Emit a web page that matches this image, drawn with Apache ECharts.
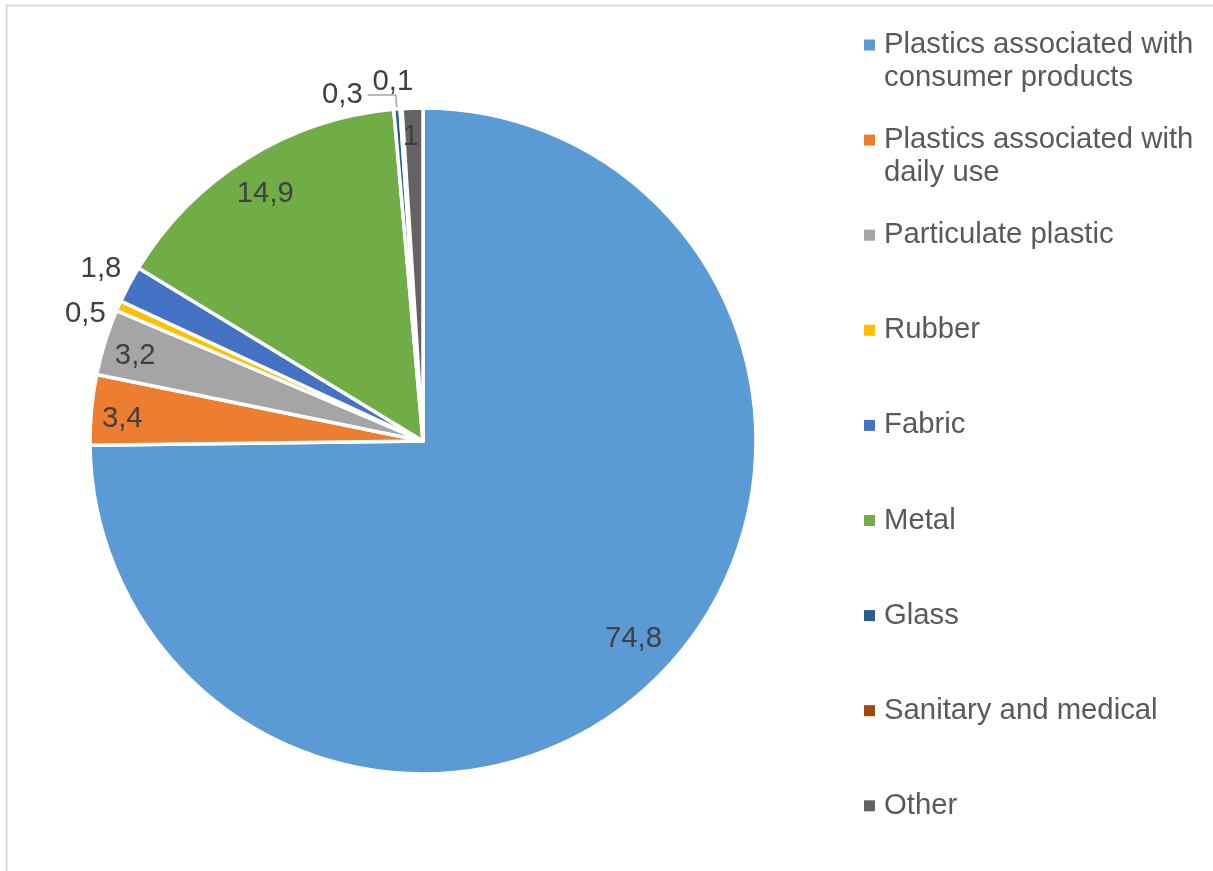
<!DOCTYPE html>
<html>
<head>
<meta charset="utf-8">
<script src="https://cdn.jsdelivr.net/npm/echarts@6/dist/echarts.min.js"></script>
<style>
  html, body { margin: 0; padding: 0; background: #ffffff; }
  #chart { width: 1213px; height: 871px; }
</style>
</head>
<body>
<div id="chart"></div>
<script>
// Share of collected items by material category (%)
const categories = [
  'Plastics associated with consumer products',
  'Plastics associated with daily use',
  'Particulate plastic',
  'Rubber',
  'Fabric',
  'Metal',
  'Glass',
  'Sanitary and medical',
  'Other'
];
const shares = [74.8, 3.4, 3.2, 0.5, 1.8, 14.9, 0.3, 0.1, 1];

// ---- styling ----
const colors = ['#5B9BD5', '#ED7D31', '#A5A5A5', '#FFC000', '#4472C4', '#70AD47', '#255E91', '#9E480E', '#636363'];
const FONT = "'Liberation Sans', Arial, sans-serif";
const FONT_SIZE = 29.3;
const LINE_H = 33;
const CENTER = [423, 441];
const RADIUS = 333;

// where each value label sits
const innerLabelNames = new Set(['Plastics associated with consumer products', 'Plastics associated with daily use', 'Particulate plastic', 'Metal', 'Other']);
const outerLabelNames = new Set(['Rubber', 'Fabric', 'Sanitary and medical']);
const leaderLabelNames = new Set(['Glass']);
// small hand adjustments of individual value labels (px)
const labelNudge = {
  'Plastics associated with consumer products': [2, -8],
  'Plastics associated with daily use': [-9, 5],
  'Particulate plastic': [-8, 2],
  'Metal': [-3, 2],
  'Other': [-3, -11],
  'Rubber': [-4, 21],
  'Sanitary and medical': [-6, 5]
};

const fmtValue = p => String(p.value).replace('.', ',');

const labelText = {
  color: '#404040',
  fontFamily: FONT,
  fontSize: FONT_SIZE,
  formatter: fmtValue
};

// greedy word wrap for legend entries
const measureCtx = document.createElement('canvas').getContext('2d');
measureCtx.font = FONT_SIZE + 'px ' + FONT;
function wrapName(name, maxWidth) {
  const words = name.split(' ');
  const lines = [];
  let line = '';
  words.forEach(w => {
    const test = line ? line + ' ' + w : w;
    if (line && measureCtx.measureText(test).width > maxWidth) {
      lines.push(line);
      line = w;
    } else {
      line = test;
    }
  });
  if (line) lines.push(line);
  return lines;
}

const chart = echarts.init(document.getElementById('chart'), null, { renderer: 'canvas' });

// main pie with slice colours; only the leader-line label is drawn here
const mainPie = {
  type: 'pie',
  center: CENTER,
  radius: RADIUS,
  startAngle: 90,
  clockwise: true,
  avoidLabelOverlap: false,
  emphasis: { disabled: true },
  itemStyle: { borderColor: '#ffffff', borderWidth: 3.5 },
  label: { show: false },
  labelLine: { show: false },
  data: categories.map((name, i) => {
    const item = { name, value: shares[i], itemStyle: { color: colors[i] } };
    if (leaderLabelNames.has(name)) {
      item.label = Object.assign({ show: true, position: 'outside', distanceToLabelLine: 5 }, labelText);
      item.labelLine = { show: true, length: 14, length2: 28, lineStyle: { color: '#A6A6A6', width: 1.5 } };
    }
    return item;
  })
};

// transparent rings used only to carry value labels at a chosen distance
function labelRing(radius, names) {
  return {
    type: 'pie',
    silent: true,
    center: CENTER,
    radius,
    startAngle: 90,
    clockwise: true,
    avoidLabelOverlap: false,
    emphasis: { disabled: true },
    itemStyle: { color: 'rgba(0,0,0,0)', borderWidth: 0 },
    labelLine: { show: false },
    label: Object.assign({ show: true, position: 'inside' }, labelText),
    data: categories.map((name, i) => {
      const item = { name, value: shares[i] };
      if (!names.has(name)) item.label = { show: false };
      else if (labelNudge[name]) item.label = { offset: labelNudge[name] };
      return item;
    })
  };
}

// one legend block per entry, rows evenly spaced; wrapped entries keep the
// marker beside their first line by centring on a leading blank line
const legendRowTop = 45;
const legendRowStep = 95.1;
const legends = categories.map((name, i) => {
  let lines = wrapName(name, 320);
  if (lines.length > 1) lines = [' '].concat(lines);
  const rowCenter = legendRowTop + legendRowStep * i;
  const boxHalf = LINE_H * lines.length / 2;
  return {
    data: [name],
    orient: 'vertical',
    left: 864,
    top: rowCenter - boxHalf,
    padding: 0,
    icon: 'rect',
    itemWidth: 11,
    itemHeight: 11,
    selectedMode: false,
    itemStyle: { borderWidth: 0 },
    formatter: () => lines.join('\n'),
    textStyle: {
      color: '#595959',
      fontFamily: FONT,
      fontSize: FONT_SIZE,
      lineHeight: LINE_H,
      padding: [0, 0, 0, 4]
    }
  };
});

chart.setOption({
  animation: false,
  backgroundColor: '#ffffff',
  graphic: [{
    type: 'rect',
    silent: true,
    shape: { x: 6.7, y: 5.5, width: 1400, height: 1000 },
    style: { fill: 'none', stroke: '#D9D9D9', lineWidth: 1.8 }
  }],
  legend: legends,
  series: [
    mainPie,
    labelRing([247, 333], innerLabelNames),
    labelRing([340, 384], outerLabelNames)
  ]
});
</script>
</body>
</html>
